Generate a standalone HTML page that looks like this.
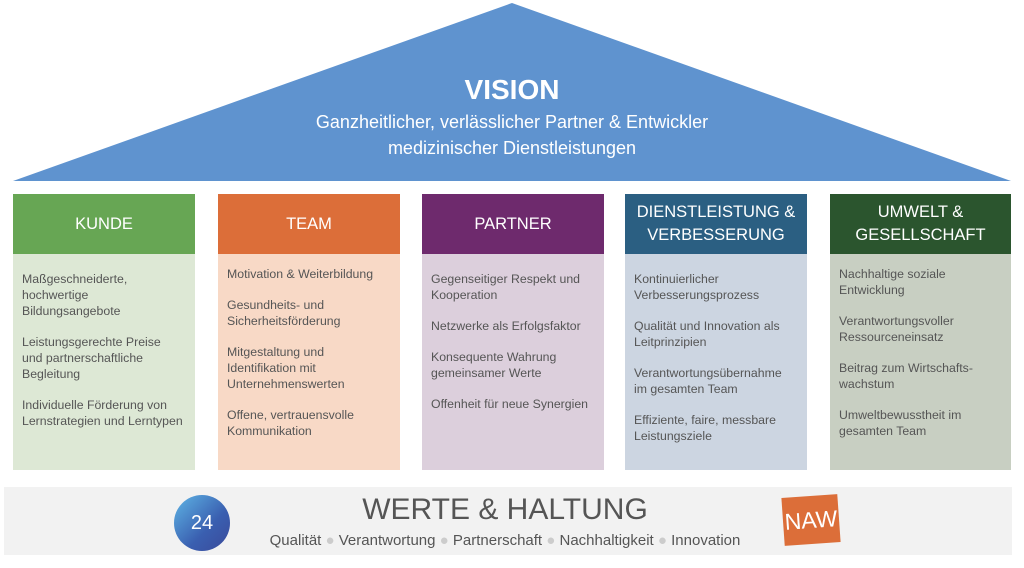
<!DOCTYPE html>
<html><head><meta charset="utf-8"><style>
body{margin:0;width:1024px;height:568px;background:#fff;position:relative;overflow:hidden;font-family:"Liberation Sans",sans-serif}
.col{position:absolute;top:194px;width:182px;height:276px}
.h{height:60px;color:#fff;font-size:16.5px;display:flex;align-items:center;justify-content:center;text-align:center;line-height:23px}
.b{height:216px;padding:12px 11px 0 9px;box-sizing:border-box;color:#555;font-size:12.3px;line-height:16px}
.b p{margin:0 0 15px 0}
</style></head><body>
<svg style="position:absolute;left:0;top:0" width="1024" height="190">
<polygon points="512,3 1011,181 13,181" fill="#5f93cf"/>
<text x="512" y="99" text-anchor="middle" fill="#fff" font-family="Liberation Sans" font-weight="bold" font-size="28">VISION</text>
<text x="512" y="128" text-anchor="middle" fill="#fff" font-family="Liberation Sans" font-size="18">Ganzheitlicher, verlässlicher Partner &amp; Entwickler</text>
<text x="512" y="154" text-anchor="middle" fill="#fff" font-family="Liberation Sans" font-size="18">medizinischer Dienstleistungen</text>
</svg>
<div class="col" style="left:13px"><div class="h" style="background:#67a654">KUNDE</div><div class="b" style="background:#dde8d5;padding-top:17px"><p>Maßgeschneiderte, hochwertige Bildungsangebote</p><p>Leistungsgerechte Preise und partnerschaftliche Begleitung</p><p>Individuelle Förderung von Lernstrategien und Lerntypen</p></div></div>
<div class="col" style="left:218px"><div class="h" style="background:#dc6e39">TEAM</div><div class="b" style="background:#f8d9c6"><p>Motivation &amp; Weiterbildung</p><p>Gesundheits- und Sicherheitsförderung</p><p>Mitgestaltung und Identifikation mit Unternehmenswerten</p><p>Offene, vertrauensvolle Kommunikation</p></div></div>
<div class="col" style="left:422px"><div class="h" style="background:#6e2a6d">PARTNER</div><div class="b" style="background:#dccfdc;padding-top:17px"><p>Gegenseitiger Respekt und Kooperation</p><p>Netzwerke als Erfolgsfaktor</p><p>Konsequente Wahrung gemeinsamer Werte</p><p>Offenheit für neue Synergien</p></div></div>
<div class="col" style="left:625px"><div class="h" style="background:#2b5f82">DIENSTLEISTUNG &amp;<br>VERBESSERUNG</div><div class="b" style="background:#ccd5e1;padding-top:17px"><p>Kontinuierlicher Verbesserungsprozess</p><p>Qualität und Innovation als Leitprinzipien</p><p>Verantwortungsübernahme im gesamten Team</p><p>Effiziente, faire, messbare Leistungsziele</p></div></div>
<div class="col" style="left:830px;width:181px"><div class="h" style="background:#2b552e">UMWELT &amp;<br>GESELLSCHAFT</div><div class="b" style="background:#c8cfc2"><p>Nachhaltige soziale Entwicklung</p><p>Verantwortungsvoller Ressourceneinsatz</p><p>Beitrag zum Wirtschafts-wachstum</p><p>Umweltbewusstheit im gesamten Team</p></div></div>
<div style="position:absolute;left:4px;top:487px;width:1008px;height:68px;background:#f2f2f2"></div>
<div style="position:absolute;left:174px;top:495px;width:56px;height:56px;border-radius:50%;background:linear-gradient(135deg,#5fb6e6,#3a5fb0 60%,#3a4a9a);color:#fff;font-size:20px;display:flex;align-items:center;justify-content:center">24</div>
<div style="position:absolute;left:300px;top:493px;width:410px;text-align:center;font-size:30px;color:#555">WERTE &amp; HALTUNG</div>
<div style="position:absolute;left:230px;top:532px;width:550px;text-align:center;font-size:15px;color:#555">Qualität <span style="color:#ccc">●</span> Verantwortung <span style="color:#ccc">●</span> Partnerschaft <span style="color:#ccc">●</span> Nachhaltigkeit <span style="color:#ccc">●</span> Innovation</div>
<div style="position:absolute;left:783px;top:496px;width:56px;height:48px;background:#dc6e39;transform:rotate(-4deg);color:#fff;font-size:23px;display:flex;align-items:center;justify-content:center">NAW</div>
</body></html>
